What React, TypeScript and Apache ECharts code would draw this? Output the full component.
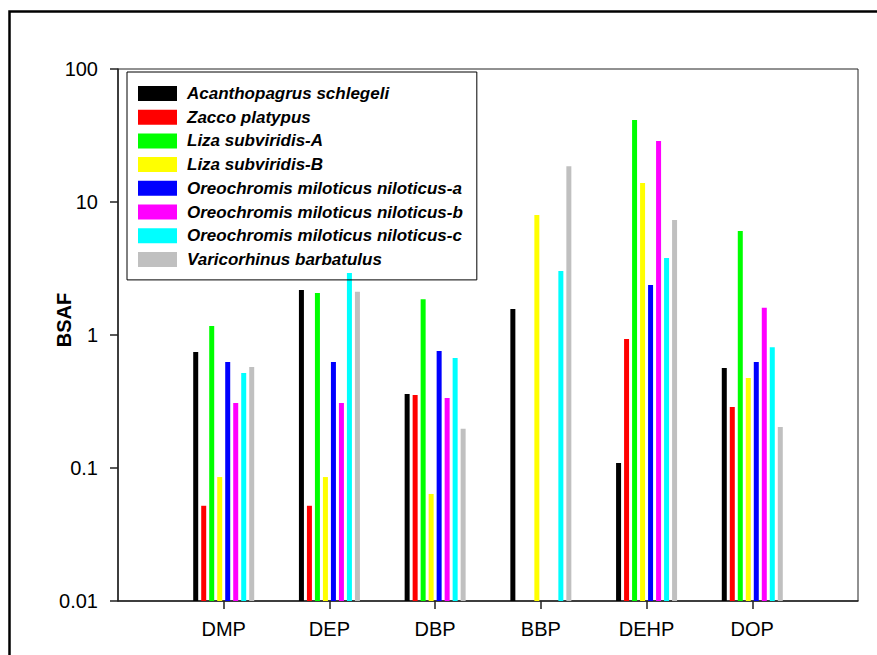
import React, { useEffect, useRef } from "react";
import * as echarts from "echarts";

const categories = ["DMP", "DEP", "DBP", "BBP", "DEHP", "DOP"];
const yTickLabels = ["0.01", "0.1", "1", "10", "100"];

const seriesNames = [
  "Acanthopagrus schlegeli",
  "Zacco platypus",
  "Liza subviridis-A",
  "Liza subviridis-B",
  "Oreochromis miloticus niloticus-a",
  "Oreochromis miloticus niloticus-b",
  "Oreochromis miloticus niloticus-c",
  "Varicorhinus barbatulus",
];
const seriesColors = ["#000000", "#ff0000", "#00ff00", "#ffff00", "#0000ff", "#ff00ff", "#00ffff", "#c0c0c0"];

const acanthopagrus = [0.745, 2.18, 0.36, 1.57, 0.109, 0.565];
const zacco = [0.052, 0.052, 0.354, null, 0.933, 0.287];
const lizaA = [1.17, 2.07, 1.86, null, 41.4, 6.05];
const lizaB = [0.0855, 0.0855, 0.0638, 7.98, 13.9, 0.475];
const oreoA = [0.627, 0.627, 0.758, null, 2.38, 0.627];
const oreoB = [0.308, 0.308, 0.336, null, 28.7, 1.6];
const oreoC = [0.518, 2.93, 0.672, 3.03, 3.79, 0.81];
const varicorhinus = [0.574, 2.11, 0.197, 18.6, 7.32, 0.203];

const seriesValues = [acanthopagrus, zacco, lizaA, lizaB, oreoA, oreoB, oreoC, varicorhinus];

const FONT = "'Liberation Sans', Arial, sans-serif";

export default function App() {
  const ref = useRef<HTMLDivElement>(null);
  useEffect(() => {
    if (!ref.current) return;
    const chart = echarts.init(ref.current, null, { renderer: "svg" });
    const axisCats = ["", ...categories, ""];
    const option: any = {
      animation: false,
      backgroundColor: "#ffffff",
      grid: {
        left: 118,
        right: 19,
        top: 69,
        bottom: 54,
        show: true,
        borderColor: "#222",
        borderWidth: 1,
        containLabel: false,
      },
      legend: {
        orient: "vertical",
        left: 127,
        top: 72,
        borderColor: "#000",
        borderWidth: 1,
        padding: [13, 14, 12, 11],
        itemWidth: 39,
        itemHeight: 15,
        itemGap: 6.7,
        icon: "rect",
        data: seriesNames,
        textStyle: {
          fontFamily: FONT,
          fontSize: 17,
          fontWeight: "bold",
          fontStyle: "italic",
          color: "#000",
          lineHeight: 15,
          padding: [0, 0, 0, 5],
        },
      },
      xAxis: {
        type: "category",
        data: axisCats,
        boundaryGap: false,
        axisLine: { show: true, lineStyle: { color: "#222", width: 1.5 } },
        axisTick: {
          show: true,
          length: 8,
          interval: (i: number) => i > 0 && i < axisCats.length - 1,
          lineStyle: { color: "#222", width: 1.5 },
        },
        axisLabel: {
          interval: 0,
          margin: 18,
          fontFamily: FONT,
          fontSize: 20,
          color: "#000",
        },
        splitLine: { show: false },
      },
      yAxis: {
        type: "log",
        logBase: 10,
        min: 0.01,
        max: 100,
        startValue: 0.01,
        axisLine: { show: true, lineStyle: { color: "#222", width: 1.5 } },
        axisTick: { show: true, length: 8, lineStyle: { color: "#222", width: 1.5 } },
        minorTick: { show: false },
        splitLine: { show: false },
        axisLabel: {
          margin: 20,
          fontFamily: FONT,
          fontSize: 20,
          color: "#000",
          formatter: (v: number) => {
            const idx = Math.round(Math.log10(v)) + 2;
            return yTickLabels[idx] ?? String(v);
          },
        },
      },
      series: seriesNames.map((name, i) => ({
        name,
        type: "bar",
        barWidth: 5,
        barGap: "60%",
        itemStyle: { color: seriesColors[i] },
        data: ["-", ...seriesValues[i].map((v) => (v == null ? "-" : v)), "-"],
      })),
      graphic: [
        {
          type: "rect",
          shape: { x: 9.5, y: 11.5, width: 1000, height: 1000 },
          style: { fill: "none", stroke: "#000", lineWidth: 2.5 },
          silent: true,
        },
        {
          type: "text",
          x: 64,
          y: 320,
          rotation: Math.PI / 2,
          style: {
            text: "BSAF",
            fontFamily: FONT,
            fontSize: 20,
            fontWeight: "bold",
            fill: "#000",
            align: "center",
            verticalAlign: "middle",
          },
        },
      ],
    };
    chart.setOption(option);
    return () => chart.dispose();
  }, []);
  return (
    <div
      ref={ref}
      style={{ position: "fixed", left: 0, top: 0, width: 877, height: 655, background: "#fff" }}
    />
  );
}
